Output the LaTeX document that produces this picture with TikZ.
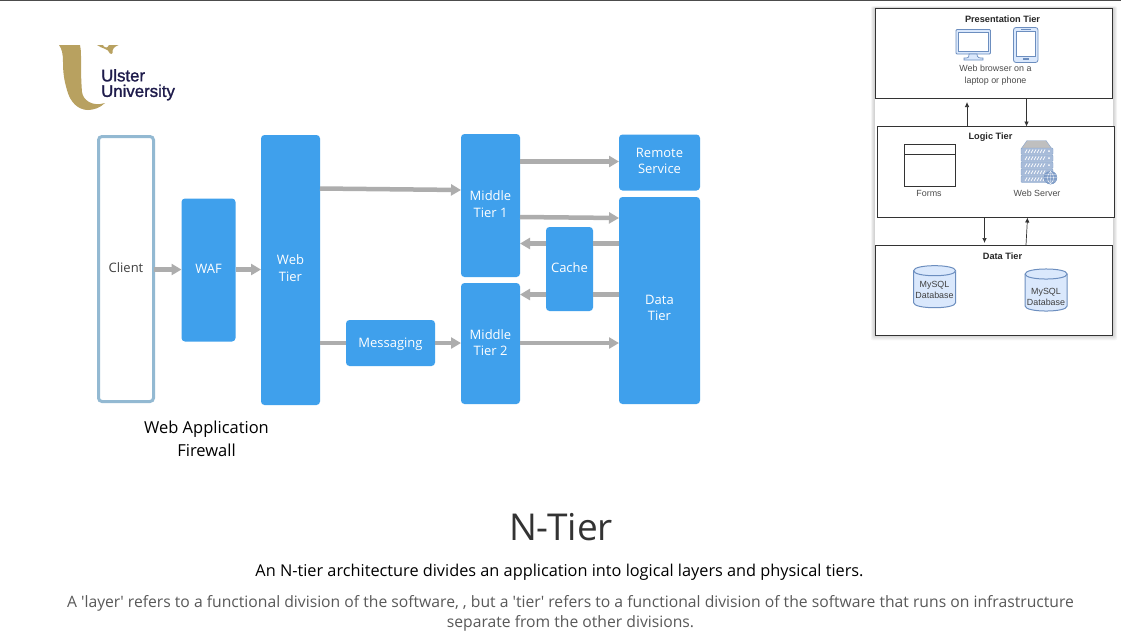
\documentclass[tikz,border=0pt]{standalone}
\usepackage{fontspec}
\setmainfont{Open Sans}
\newfontfamily\arialf{Liberation Sans}
\newfontfamily\logof[FakeBold=1.3]{Liberation Sans}
\usetikzlibrary{arrows.meta}
\definecolor{tierblue}{HTML}{3FA0EC}
\definecolor{arrowgrey}{HTML}{ADADAD}
\definecolor{clientedge}{HTML}{93B9D2}
\definecolor{gold}{HTML}{B8A160}
\definecolor{navy}{HTML}{1E1B4B}
\definecolor{iconfill}{HTML}{DAE8FC}
\definecolor{iconedge}{HTML}{6C8EBF}
\definecolor{sub}{HTML}{595959}
\newcommand\tl[2]{\raisebox{\dimexpr#1-5.25pt\relax}[22pt][22pt]{\begin{tabular}{@{}c@{}}#2\end{tabular}}}
\newcommand\dbcyl[2]{%
 \filldraw[cylshape] (#1-21,#2-16) .. controls (#1-21,#2-22.7) and (#1+21,#2-22.7) .. (#1+21,#2-16) -- (#1+21,#2+16) .. controls (#1+21,#2+22.7) and (#1-21,#2+22.7) .. (#1-21,#2+16) -- cycle;
 \draw[cylshape] (#1-21,#2-16) .. controls (#1-21,#2-9.3) and (#1+21,#2-9.3) .. (#1+21,#2-16);
}
\tikzset{x=1pt,y=-1pt,
 boxfont/.style={font=\fontsize{13}{16.5}\selectfont},
 tier/.style={fill=tierblue,rounded corners=3.5pt,text=white,align=center,boxfont,inner sep=0pt,outer sep=0pt},
 flow/.style={draw=arrowgrey,line width=4.5pt,-{Triangle[length=10pt,width=11pt]}},
 flowline/.style={draw=arrowgrey,line width=4.5pt},
 panel/.style={draw=black!80,fill=white,line width=.8pt,inner sep=0pt,outer sep=0pt},
 panelT/.style={font=\arialf\bfseries\fontsize{9.2}{11}\selectfont,text=black!85},
 small/.style={font=\arialf\fontsize{8.9}{11.3}\selectfont,text=black!70,align=center},
 thinarrow/.style={draw=black!80,line width=.7pt,-{Latex[length=5pt,width=4.5pt]}},
 cylshape/.style={draw=iconedge,fill=iconfill,line width=1pt},
 cylT/.style={align=center,font=\arialf\fontsize{8.9}{11.5}\selectfont,text=black!75,inner sep=0pt},
}
\begin{document}
\begin{tikzpicture}
\useasboundingbox (0,0) rectangle (1121,633);
\fill[white] (0,0) rectangle (1121,633);
\fill[black!70] (0,0) rectangle (1121,1);
% logo
\fill[gold] (59,45) -- (80,45) .. controls (80.5,48) and (81,50) .. (81,56) .. controls (81,68) and (81,80) .. (82,92) .. controls (83,100) and (92,107) .. (105,103) .. controls (100,108) and (93,110) .. (88,110) .. controls (78,110) and (70,102) .. (67,90) .. controls (64,80) and (63,72) .. (63,62) .. controls (63,54) and (62,49) .. (59,45) -- cycle;
\fill[gold] (97,45) .. controls (102,49) and (108,48) .. (110,53.5) .. controls (111,54) and (112,54) .. (112.5,53) .. controls (112,49) and (114,47) .. (118.5,45) -- (109,45) .. controls (108,47) and (107,48) .. (106,47.5) .. controls (104,47) and (103,46) .. (103,45) -- cycle;
\node[anchor=north west,inner sep=0pt,align=left,text=navy,font=\logof\fontsize{16.8}{15.5}\selectfont] (logo) at (101,69) {Ulster\\University};
% main boxes
\node[draw=clientedge,line width=3pt,fill=white,rounded corners=3.5pt,minimum width=55pt,minimum height=265pt,inner sep=0pt,outer sep=0pt,align=center,boxfont,text=black!75] (client) at (126,269) {\tl{2pt}{Client}};
\node[tier,minimum width=54pt,minimum height=143pt] (waf) at (208.5,270) {\tl{2pt}{WAF}};
\node[tier,minimum width=59pt,minimum height=270pt] (web) at (290.5,270) {\tl{2.5pt}{Web\\Tier}};
\node[tier,minimum width=59pt,minimum height=143pt] (m1) at (490.5,205.5) {\tl{2pt}{Middle\\Tier 1}};
\node[tier,minimum width=59pt,minimum height=121pt] (m2) at (490.5,343.5) {\tl{1.5pt}{Middle\\Tier 2}};
\node[tier,minimum width=81pt,minimum height=56pt] (remote) at (659.5,162.5) {\tl{2.5pt}{Remote\\Service}};
\node[tier,minimum width=81pt,minimum height=207pt] (data) at (659.5,300.5) {\tl{-6.5pt}{Data\\Tier}};
\node[tier,minimum width=47pt,minimum height=84pt] (cache) at (569.5,269) {\tl{2pt}{Cache}};
\node[tier,minimum width=89pt,minimum height=46pt] (msg) at (390.5,343) {\tl{1.5pt}{Messaging}};
% connectors
\draw[flow] (client.east|-0,269.5) -- (waf.west|-0,269.5);
\draw[flow] (waf.east|-0,269.5) -- (web.west|-0,269.5);
\coordinate (wa) at (web.east|-0,188.5);
\coordinate (mb) at (m1.west|-0,190);
\draw[flow] (wa) -- (mb);
\draw[flowline] (web.east|-0,343) -- (msg.west|-0,343);
\draw[flow] (msg.east|-0,343) -- (m2.west|-0,343);
\draw[flow] (m2.east|-0,343) -- (data.west|-0,343);
\draw[flow] (m1.east|-0,161.5) -- (remote.west|-0,161.5);
\coordinate (m1o) at (m1.east|-0,217);
\coordinate (dai) at (data.west|-0,218);
\draw[flow] (m1o) -- (dai);
\draw[flowline] (data.west|-0,243.5) -- (cache.east|-0,243.5);
\draw[flowline] (data.west|-0,294.5) -- (cache.east|-0,294.5);
\draw[flow] (cache.west|-0,243.5) -- (m1.east|-0,243.5);
\draw[flow] (cache.west|-0,294.5) -- (m2.east|-0,294.5);
% captions
\node[align=center,font=\fontsize{16.5}{23}\selectfont,text=black] (cap) at (206.5,438.5) {Web Application\\Firewall};
\node[font=\fontsize{37}{44}\selectfont,text=black!80] (title) at (561,527) {N-Tier};
\node[font=\fontsize{16.3}{20}\selectfont,text=black] (lead) at (559.5,572.5) {An N-tier architecture divides an application into logical layers and physical tiers.};
\node[align=center,font=\fontsize{15.7}{20}\selectfont,text=sub] (desc) at (570.5,613) {A \textquotesingle layer\textquotesingle{} refers to a functional division of the software, , but a \textquotesingle tier\textquotesingle{} refers to a functional division of the software that runs on infrastructure\\separate from the other divisions.};
% inset shadow
\foreach \d in {6,5,4,3,2,1}{
 \fill[black,opacity=.03,rounded corners=2pt] (875-\d*.7,8-\d*.3) rectangle (1113+\d*.7,335+\d*.9);
}
\fill[white] (875,8) rectangle (1113,335);
\node[panel,minimum width=237.4pt,minimum height=90.4pt] (pres) at (994,53.5) {};
\node[panel,minimum width=237pt,minimum height=90.4pt] (logic) at (995.8,171.9) {};
\node[panel,minimum width=237.4pt,minimum height=90.4pt] (dat) at (994,290.2) {};
\node[panelT] (pt) at (1002.5,19) {Presentation Tier};
\node[panelT] (lt) at (990.5,137.3) {Logic Tier};
\node[panelT] (dt) at (1002.5,256) {Data Tier};
\node[small] (pl) at (995.5,75.2) {Web browser on a\\laptop or phone};
\node[small] (fl) at (929,193.3) {Forms};
\node[small] (wl) at (1037,193.3) {Web Server};
% monitor icon
\filldraw[draw=iconedge,fill=iconfill,line width=.8pt,rounded corners=1pt] (956,29.5) rectangle (990.5,54);
\filldraw[draw=iconedge,fill=white,line width=.6pt] (958.5,32) rectangle (988,51.5);
\filldraw[draw=iconedge,fill=iconfill,line width=.7pt] (969,54) -- (977,54) .. controls (977,58) and (979,58) .. (983,58) -- (983,60) -- (964,60) -- (964,58) .. controls (968,58) and (969,58) .. (969,54) -- cycle;
% phone icon
\filldraw[draw=iconedge,fill=iconfill,line width=.8pt,rounded corners=2.5pt] (1013.5,27.5) rectangle (1038,62.5);
\filldraw[draw=iconedge,fill=white,line width=.6pt] (1016,31.5) rectangle (1035.5,56);
\fill[iconedge] (1021,29) rectangle (1031,30.4);
\fill[iconedge] (1023,58.2) rectangle (1028.5,60);
% forms
\draw[draw=black!80,line width=.8pt,fill=white] (904,144) rectangle (955,186);
\draw[draw=black!80,line width=.8pt] (904,154.5) -- (955,154.5);
% server icon
\filldraw[draw=iconedge!80,fill=black!25,line width=.4pt] (1021,149) -- (1027,140.5) -- (1046,140.5) -- (1052,149) -- cycle;
\foreach \yy in {148,155,162,169,176}{
 \filldraw[draw=iconedge!80,fill=iconedge!60,rounded corners=1pt,line width=.4pt] (1021,\yy) rectangle (1053,\yy+6.5);
 \foreach \xx in {1025,1028,...,1044}{
  \draw[white,line width=.7pt] (\xx,\yy+5) -- (\xx+2,\yy+1.5);
 }
 \fill[white] (1049,\yy+3.2) circle (1pt);
}
\filldraw[draw=iconedge,fill=iconedge!85,line width=.4pt] (1050.5,177.7) circle (6.4pt);
\draw[white,line width=.3pt] (1044.1,177.7) -- (1056.9,177.7) (1045,174.5) -- (1056,174.5) (1045,181) -- (1056,181) (1050.5,171.3) -- (1050.5,184.1) (1050.5,171.3) .. controls (1046.5,175) and (1046.5,181) .. (1050.5,184.1) (1050.5,171.3) .. controls (1054.5,175) and (1054.5,181) .. (1050.5,184.1);
% databases
\dbcyl{934.6}{286.7}
\dbcyl{1046.1}{290}
\node[cylT] (db1) at (934.5,290) {MySQL\\Database};
\node[cylT] (db2) at (1046,297) {MySQL\\Database};
% inset arrows
\coordinate (a1s) at (967,126.5); \coordinate (a1e) at (967,102);
\draw[thinarrow] (a1s) -- (a1e);
\draw[thinarrow] (1026.5,99) -- (1026.5,126.5);
\draw[thinarrow] (984.5,217) -- (984.5,243);
\draw[thinarrow] (1026,245) -- (1027.5,217.5);
\end{tikzpicture}
\end{document}
